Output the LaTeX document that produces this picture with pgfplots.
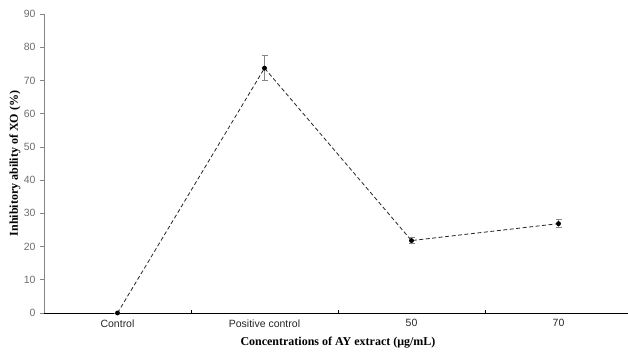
\documentclass[border=0pt]{standalone}
\usepackage{fontspec}
\setmainfont{Liberation Serif}
\newfontfamily\arial{Liberation Sans}
\usepackage{pgfplots}
\pgfplotsset{compat=1.18}
\definecolor{axgray}{HTML}{868686}
\definecolor{lblgray}{HTML}{6E6E6E}
\begin{document}
\begin{tikzpicture}
\begin{axis}[
  name=ax,
  scale only axis,
  width=588pt, height=299pt,
  xmin=-0.5, xmax=3.5,
  ymin=0, ymax=90,
  ytick={0,10,...,90},
  xtick={0,1,2,3},
  xticklabels={Control, Positive control, 50, 70},
  minor xtick={0.5,1.5,2.5},
  axis lines=left,
  axis line style={-},
  x axis line style={black, line width=0.9pt},
  y axis line style={axgray, line width=0.8pt},
  major tick length=3.5pt,
  minor tick length=3.5pt,
  tick align=inside,
  major x tick style={draw=none},
  minor x tick style={black, line width=0.6pt},
  y tick style={axgray, line width=0.6pt, xshift=-3.5pt},
  /pgf/number format/assume math mode=true,
  yticklabel style={font=\arial\fontsize{10.5}{12}\selectfont, text=lblgray, xshift=-5pt},
  xticklabel style={font=\arial\fontsize{10.5}{12}\selectfont, text=black!85, yshift=-3pt},
  ylabel={\bfseries Inhibitory ability of XO (\%)},
  xlabel={\bfseries Concentrations of AY extract (μg/mL)},
  label style={font=\fontsize{12}{14}\selectfont},
  ylabel style={at={(axis description cs:-0.0495,0.5)}, anchor=center},
  xlabel style={at={(axis description cs:0.5,0)}, anchor=center, yshift=-30pt},
  clip=false,
]
\addplot[black!85, dashed, dash pattern=on 4pt off 2.5pt, line width=0.8pt,
  mark=*, mark size=2pt, mark options={solid, fill=black, draw=black},
  error bars/.cd, y dir=both, y explicit,
  error bar style={axgray, line width=0.8pt, solid},
  error mark options={rotate=90, axgray, mark size=3pt, line width=0.8pt}]
  coordinates {
    (0,0) +- (0,0)
    (1,73.7) +- (0,3.7)
    (2,21.8) +- (0,1.0)
    (3,26.9) +- (0,1.25)
  };
\end{axis}
\pgfresetboundingbox
\path (ax.south west) ++(-44pt,-40pt) rectangle ++(628pt,353pt);
\end{tikzpicture}
\end{document}
